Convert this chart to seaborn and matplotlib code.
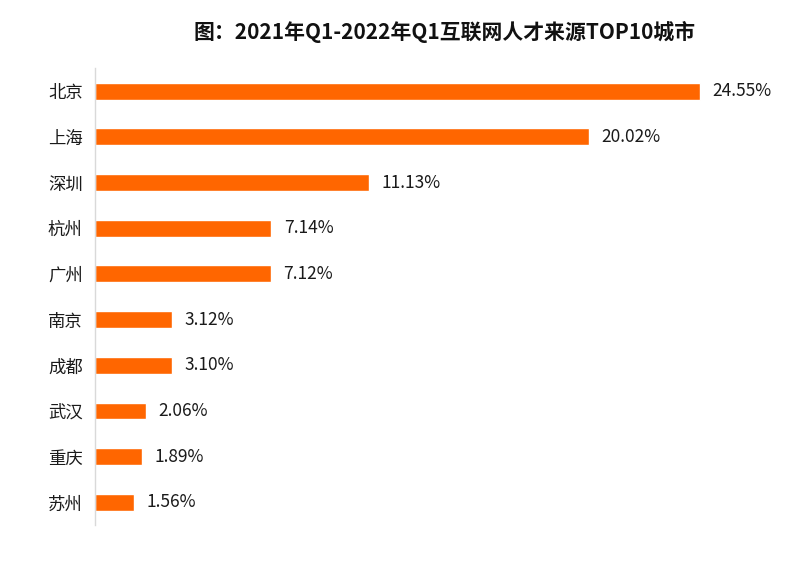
import pandas as pd
import matplotlib
matplotlib.use('Agg')
import matplotlib.pyplot as plt
import seaborn as sns

cities = ['北京', '上海', '深圳', '杭州', '广州', '南京', '成都', '武汉', '重庆', '苏州']
shares = [24.55, 20.02, 11.13, 7.14, 7.12, 3.12, 3.10, 2.06, 1.89, 1.56]

data = pd.DataFrame({'city': cities, 'share': shares})

sns.set_style('white')
plt.rcParams['font.family'] = ['Noto Sans CJK SC', 'DejaVu Sans']

fig = plt.figure(figsize=(8, 5.69), dpi=100)
ax = fig.add_axes([0.119, 0.077, 0.8625, 0.803])
sns.barplot(x='share', y='city', data=data, color='#FF6600', width=0.37,
            saturation=1, ax=ax)

ax.set_xlim(0, 28)
ax.set_ylim(9.5, -0.5)
ax.set_xlabel('')
ax.set_ylabel('')
ax.set_xticks([])
for s in ['top', 'right', 'bottom']:
    ax.spines[s].set_visible(False)
ax.spines['left'].set_color('#d9d9d9')
ax.spines['left'].set_linewidth(1)
ax.tick_params(axis='y', length=0, labelsize=12.5, pad=9, colors='#1a1a1a')

for p, v in zip(ax.patches, shares):
    ax.annotate(f'{v:.2f}%', (p.get_width(), p.get_y() + p.get_height() / 2),
                xytext=(9, 0), textcoords='offset points',
                ha='left', va='center', fontsize=12.5, color='#1a1a1a')

fig.text(0.556, 0.944, '图：2021年Q1-2022年Q1互联网人才来源TOP10城市',
         ha='center', va='center', fontsize=15, fontweight='bold', color='#111111')

fig.savefig('out.png', dpi=100)
